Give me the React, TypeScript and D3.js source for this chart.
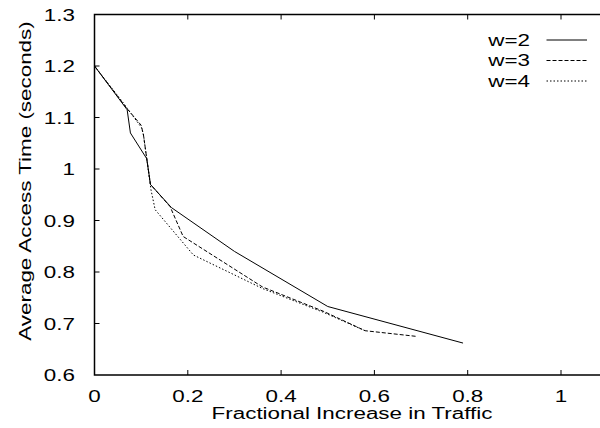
import React, { useEffect, useRef } from 'react';
import * as d3 from 'd3';

// series: [fractional increase, avg access time]
const w2Points: [number, number][] = [
  [0, 1.2], [0.07, 1.115], [0.077, 1.07], [0.112, 1.02], [0.12, 0.97],
  [0.165, 0.925], [0.3, 0.84], [0.5, 0.733], [0.79, 0.662],
];
const w3Points: [number, number][] = [
  [0, 1.2], [0.069, 1.118], [0.1, 1.085], [0.105, 1.066], [0.112, 1.02],
  [0.12, 0.97], [0.162, 0.927], [0.19, 0.869], [0.36, 0.771], [0.49, 0.724],
  [0.58, 0.686], [0.69, 0.675],
];
const w4Points: [number, number][] = [
  [0, 1.2], [0.062, 1.128], [0.101, 1.08], [0.105, 1.066], [0.112, 1.02],
  [0.121, 0.96], [0.13, 0.921], [0.212, 0.833], [0.36, 0.768], [0.49, 0.722],
  [0.58, 0.686],
];

const seriesNames = ['w=2', 'w=3', 'w=4'];
const xTicks = [0, 0.2, 0.4, 0.6, 0.8, 1];
const yTicks = [0.6, 0.7, 0.8, 0.9, 1, 1.1, 1.2, 1.3];

const FONT = '"Liberation Sans", Arial, Helvetica, sans-serif';
// the original's lettering is wide, stretch it horizontally
const STRETCH = 1.4;

const App = () => {
  const svgRef = useRef<SVGSVGElement>(null);

  useEffect(() => {
    if (!svgRef.current) return;
    const svg = d3.select(svgRef.current);
    svg.selectAll('*').remove();

    const width = 600;
    const height = 428;

    // x domain runs past the window edge, like the cropped original
    const x = d3.scaleLinear().domain([0, 1]).range([94.5, 561]);
    const y = d3.scaleLinear().domain([0.6, 1.3]).range([375, 14.5]);
    const xMax = 1.2;

    svg.attr('width', width).attr('height', height);

    svg.append('rect')
      .attr('width', width).attr('height', height)
      .attr('fill', '#fff');

    const label = (tx: number, ty: number, text: string, anchor: string, rotate = 0) =>
      svg.append('text')
        .attr('transform', `translate(${tx},${ty}) rotate(${rotate}) scale(${STRETCH},1)`)
        .attr('text-anchor', anchor)
        .attr('font-family', FONT)
        .attr('font-size', 16)
        .attr('fill', '#000')
        .text(text);

    const styles = [
      { data: w2Points, dash: null },
      { data: w3Points, dash: '4,2' },
      { data: w4Points, dash: '1.5,2' },
    ];

    const line = d3.line<[number, number]>()
      .x(d => x(d[0]))
      .y(d => y(d[1]));

    // data lines
    styles.forEach(s => {
      svg.append('path')
        .datum(s.data)
        .attr('d', line)
        .attr('fill', 'none')
        .attr('stroke', '#000')
        .attr('stroke-width', 1)
        .attr('stroke-dasharray', s.dash);
    });

    // frame
    const g = svg.append('g');
    g.append('path')
      .attr('d', `M${x(xMax)},${y(1.3)}H${x(0)}V${y(0.6)}H${x(xMax)}`)
      .attr('fill', 'none')
      .attr('stroke', '#000')
      .attr('stroke-width', 1.5);

    // ticks (gnuplot style: inward, mirrored)
    const tickLen = 5;
    xTicks.slice(1).forEach(t => {
      g.append('line')
        .attr('x1', x(t)).attr('x2', x(t))
        .attr('y1', y(0.6)).attr('y2', y(0.6) - tickLen)
        .attr('stroke', '#000');
      g.append('line')
        .attr('x1', x(t)).attr('x2', x(t))
        .attr('y1', y(1.3)).attr('y2', y(1.3) + tickLen)
        .attr('stroke', '#000');
    });
    yTicks.slice(1, -1).forEach(t => {
      g.append('line')
        .attr('x1', x(0)).attr('x2', x(0) + tickLen)
        .attr('y1', y(t)).attr('y2', y(t))
        .attr('stroke', '#000');
    });

    // tick labels
    xTicks.forEach(t => label(x(t), 402, d3.format('~g')(t), 'middle'));
    yTicks.forEach(t => label(75, y(t) + 6, d3.format('~g')(t), 'end'));

    // axis titles
    label(352, 419, 'Fractional Increase in Traffic', 'middle');
    label(31, 181, 'Average Access Time (seconds)', 'middle', -90);

    // legend
    seriesNames.forEach((name, i) => {
      const ly = 40 + i * 20.5;
      label(530, ly + 5.5, name, 'end');
      svg.append('line')
        .attr('x1', 546.5).attr('x2', 587)
        .attr('y1', ly).attr('y2', ly)
        .attr('stroke', '#000')
        .attr('stroke-width', 1)
        .attr('stroke-dasharray', styles[i].dash);
    });
  }, []);

  return (
    <div style={{ position: 'absolute', left: 0, top: 0 }}>
      <svg ref={svgRef} style={{ display: 'block' }}></svg>
    </div>
  );
};

export default App;
